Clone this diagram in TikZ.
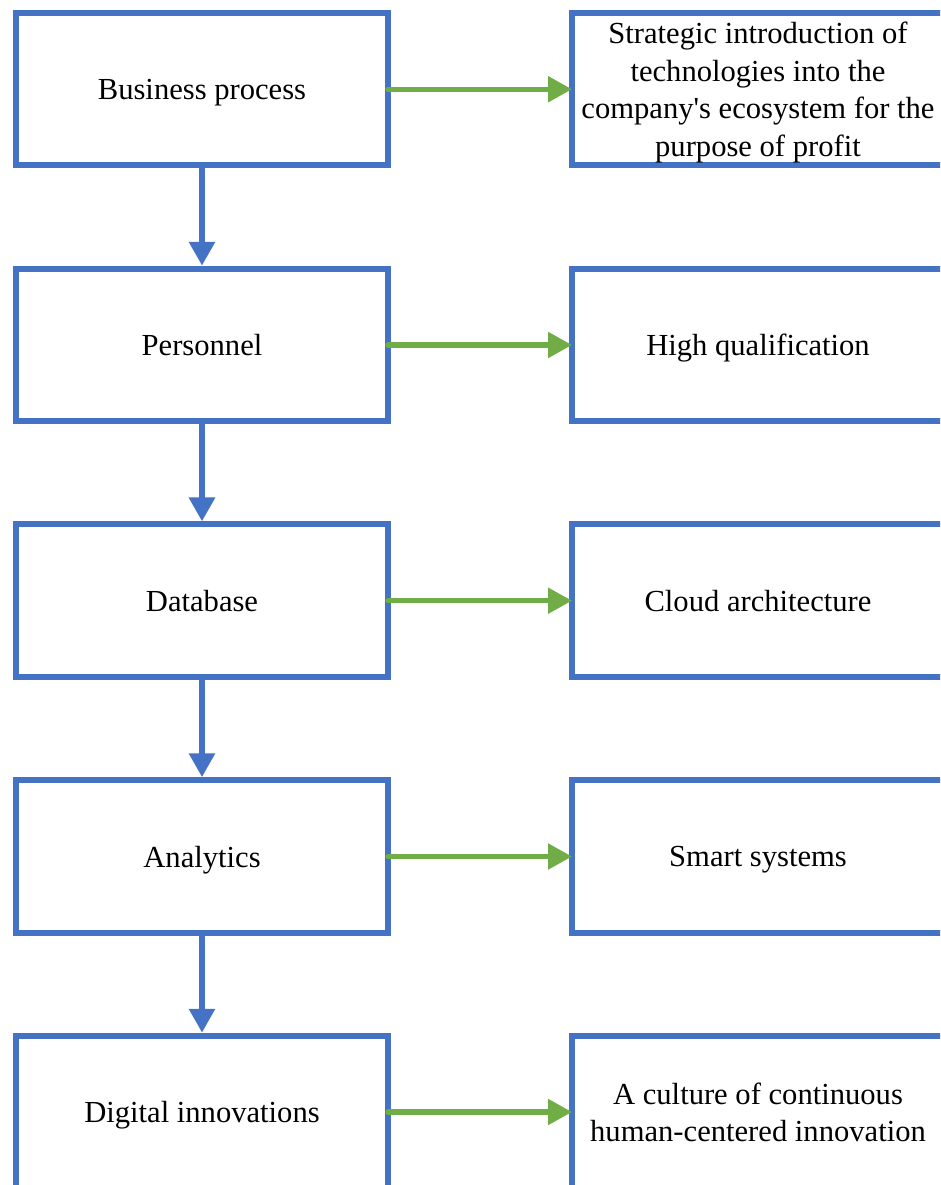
\documentclass[tikz,border=0pt]{standalone}
\usepackage{fontspec}
\setmainfont{Liberation Serif}
\usetikzlibrary{arrows.meta}
\definecolor{boxblue}{HTML}{4472C4}
\definecolor{arrowgreen}{HTML}{70AD47}
\begin{document}
\begin{tikzpicture}[x=1pt,y=-1pt,
  card/.style={draw=boxblue, line width=6pt, fill=white, rectangle,
    minimum width=372pt, minimum height=152.5pt, inner sep=0pt,
    text depth=0pt,
    align=center, font=\fontsize{30.6}{37.5}\selectfont},
  downlink/.style={draw=boxblue, line width=6pt,
    -{Triangle[length=24pt,width=25pt]}},
  sidelink/.style={draw=arrowgreen, line width=5.3pt, line cap=round,
    shorten <=-3pt, shorten >=-3pt,
    -{Triangle[length=24pt,width=25pt]}}]
\useasboundingbox (0,0) rectangle (940,1185);
\clip (0,0) rectangle (940,1185);

% main chain on the left
\node[card] (bp)  at (202,89.25)  {Business process};
\node[card] (per) at (202,345)    {Personnel};
\node[card] (db)  at (202,600.7)  {Database};
\node[card] (an)  at (202,856.5)  {Analytics};
\node[card] (di)  at (202,1112)   {Digital innovations};

% outcomes on the right
\node[card] (r1) at (758,89.25) {Strategic introduction of\\technologies into the\\company\textquotesingle s ecosystem for the\\purpose of profit};
\node[card] (r2) at (758,345)   {High qualification};
\node[card] (r3) at (758,600.7) {Cloud architecture};
\node[card] (r4) at (758,856.5) {Smart systems};
\node[card] (r5) at (758,1112)  {A culture of continuous\\human-centered innovation};

% vertical flow
\draw[downlink] (bp) -- (per);
\draw[downlink] (per) -- (db);
\draw[downlink] (db) -- (an);
\draw[downlink] (an) -- (di);

% horizontal links
\draw[sidelink] (bp.east) -- (r1.west);
\draw[sidelink] (per.east) -- (r2.west);
\draw[sidelink] (db.east) -- (r3.west);
\draw[sidelink] (an.east) -- (r4.west);
\draw[sidelink] (di.east) -- (r5.west);
\end{tikzpicture}
\end{document}
